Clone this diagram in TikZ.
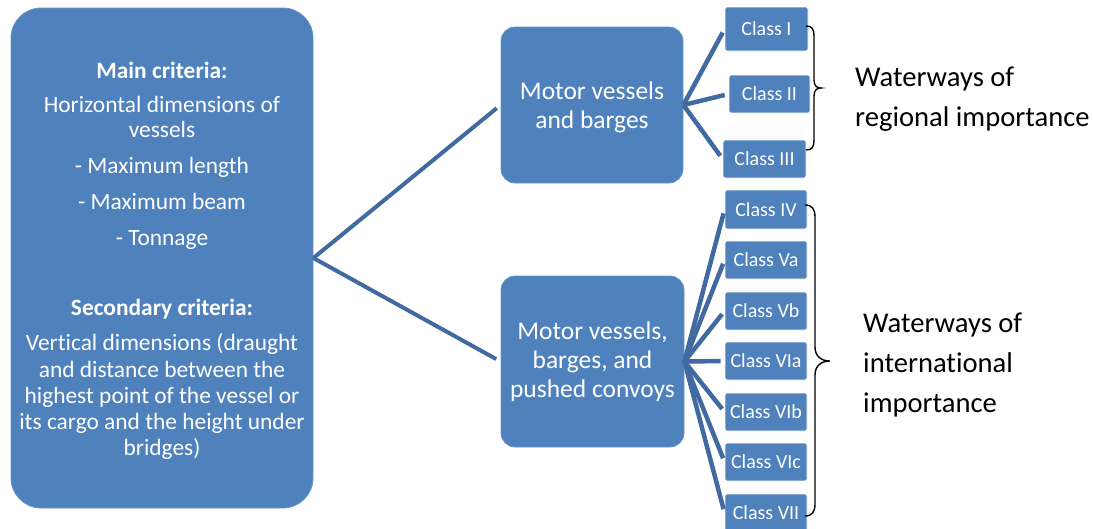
\documentclass[tikz,border=0pt]{standalone}
\usepackage{fontspec}
\setmainfont[Ligatures=NoCommon]{Carlito}
\definecolor{boxblue}{RGB}{79,129,189}
\definecolor{linkblue}{RGB}{64,106,160}
\begin{document}
\begin{tikzpicture}[x=1pt,y=-1pt,
  bigbox/.style={fill=boxblue,draw=boxblue!85!white,line width=0.8pt,rounded corners=30pt,inner sep=0pt},
  midbox/.style={fill=boxblue,draw=boxblue!85!white,line width=0.8pt,rounded corners=14pt,inner sep=0pt,minimum width=182pt},
  classbox/.style={fill=boxblue,draw=white,line width=0.8pt,rounded corners=2pt,inner sep=0pt,
     minimum width=82pt,minimum height=38pt,text=white,font=\fontsize{20}{24}\selectfont},
  wtext/.style={text=white,inner sep=0pt,align=center},
  conn/.style={draw=linkblue,line width=4pt},
  subconn/.style={draw=linkblue,line width=4.5pt,shorten >=4pt},
  bracestyle/.style={draw=black,line width=1.4pt},
  label/.style={inner sep=0pt,align=left,font=\fontsize{28.6}{40}\selectfont}
]
\useasboundingbox (0,0) rectangle (1093,528);

% left box
\node[bigbox,minimum width=302pt,minimum height=500pt] (crit) at (162,258) {};
\node[wtext,anchor=base,font=\fontsize{23.4}{26}\selectfont] (crittext) at (162,455)
 {\textbf{Main criteria:}\\[8pt]
  Horizontal dimensions of\\[-1pt]
  vessels\\[10pt]
  - Maximum length\\[10pt]
  - Maximum beam\\[10pt]
  - Tonnage\\[44pt]
  \textbf{Secondary criteria:}\\[9pt]
  Vertical dimensions (draught\\[1pt]
  and distance between the\\
  highest point of the vessel or\\
  its cargo and the height under\\
  bridges)};

% middle boxes
\node[midbox,minimum height=156pt] (m1) at (592,105) {};
\node[wtext,anchor=base,font=\fontsize{25.5}{29}\selectfont] (m1text) at (592,128)
 {Motor vessels\\and barges};
\node[midbox,minimum width=183pt,minimum height=171pt] (m2) at (592.5,361.5) {};
\node[wtext,anchor=base,font=\fontsize{25.5}{29}\selectfont] (m2text) at (592.5,397)
 {Motor vessels,\\barges, and\\pushed convoys};

% class boxes
\node[classbox,minimum width=83pt,minimum height=44pt] (c1) at (766.5,29) {Class I};
\node[classbox,minimum width=81pt] (c2) at (769.5,94) {Class II};
\node[classbox,minimum width=83pt] (c3) at (764.5,159) {Class III};
\node[classbox,minimum height=39pt] (c4) at (766,209.5) {Class IV};
\node[classbox] (c5) at (766,260) {Class Va};
\node[classbox] (c6) at (766,311) {Class Vb};
\node[classbox] (c7) at (766,361) {Class VIa};
\node[classbox] (c8) at (766,412) {Class VIb};
\node[classbox] (c9) at (766,462) {Class VIc};
\node[classbox] (c10) at (766,513) {Class VII};

% connectors
\draw[conn,shorten >=5pt] (crit.east) -- (m1.west);
\draw[conn,shorten >=5pt] (crit.east) -- (m2.west);
\foreach \c in {c1,c2,c3} \draw[subconn] (m1.east) -- (\c.west);
\foreach \c in {c4,c5,c6,c7,c8,c9,c10} \draw[subconn] (m2.east) -- (\c.west);

% braces
\coordinate (b1s) at (806,26);
\coordinate (b1e) at (806,150);
\draw[bracestyle] (b1s) .. controls (812,26) and (814,29) .. (814,36)
  -- (814,80) .. controls (814,86) and (817,88) .. (821,88)
  .. controls (817,88) and (814,90) .. (814,96)
  -- (814,140) .. controls (814,147) and (812,150) .. (b1e);
\coordinate (b2s) at (805,205);
\coordinate (b2e) at (805,516);
\draw[bracestyle] (b2s) .. controls (812,205) and (815,209) .. (815,217)
  -- (815,347) .. controls (815,356) and (821,361) .. (830,361)
  .. controls (821,361) and (815,366) .. (815,375)
  -- (815,504) .. controls (815,512) and (812,516) .. (b2e);

% labels
\node[label,anchor=base west] (reg) at (855,126) {Waterways of\\regional importance};
\node[label,anchor=base west] (intl) at (863,412) {Waterways of\\international\\importance};
\end{tikzpicture}
\end{document}
